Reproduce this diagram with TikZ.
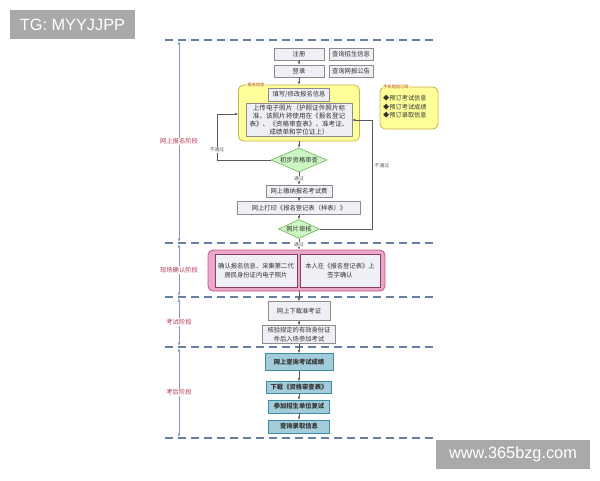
\documentclass[tikz,border=0pt]{standalone}
\usepackage{fontspec}
\setmainfont{Noto Sans CJK SC}
\newfontfamily\markfont{Liberation Sans}
\usetikzlibrary{arrows.meta,positioning,shapes.geometric,shadows}
\definecolor{flowInk}{HTML}{595959}
\definecolor{flowLine}{HTML}{8C8C8C}
\definecolor{flowSoft}{HTML}{EEF0F5}
\definecolor{flowYellow}{HTML}{FFFF99}
\definecolor{flowGold}{HTML}{CDB04A}
\definecolor{flowGreen}{HTML}{CCF7C4}
\definecolor{flowLeaf}{HTML}{73B054}
\definecolor{flowPink}{HTML}{E9A7C9}
\definecolor{flowRose}{HTML}{C8508B}
\definecolor{flowPlum}{HTML}{8E3A66}
\definecolor{flowTeal}{HTML}{A3CCDA}
\definecolor{flowSea}{HTML}{3F8CA6}
\definecolor{flowDash}{HTML}{66809F}
\definecolor{flowRed}{HTML}{B03A55}
\definecolor{flowMark}{HTML}{A9A9A9}
\tikzset{
  stepBox/.style={
    rectangle,
    draw=flowLine,
    fill=flowSoft,
    line width=0.6pt,
    inner sep=0pt,
    align=center,
    text=black!80,
    font=\fontsize{6.3}{8.3}\selectfont,
    drop shadow={shadow xshift=0.9pt,shadow yshift=-0.9pt,opacity=0.3}
  },
  resultBox/.style={
    stepBox,
    draw=flowSea,
    fill=flowTeal,
    font=\fontsize{6.3}{8.3}\selectfont\bfseries
  },
  groupBox/.style={
    rectangle,
    rounded corners=5pt,
    line width=0.8pt,
    inner sep=0pt
  },
  check/.style={
    diamond,
    aspect=2.3,
    draw=flowLeaf,
    fill=flowGreen,
    line width=0.6pt,
    inner sep=0pt,
    text=black!80,
    font=\fontsize{6.3}{8}\selectfont
  },
  flowArrow/.style={
    -{Latex[length=3pt,width=2.4pt]},
    line width=0.4pt,
    draw=flowInk
  },
  stageLine/.style={
    draw=flowDash,
    line width=1.1pt,
    dash pattern=on 8pt off 5pt
  },
  stageSpan/.style={
    {Latex[length=3.5pt,width=2.6pt]}-{Latex[length=3.5pt,width=2.6pt]},
    line width=0.6pt,
    draw=flowDash!80,
    shorten <=1pt,
    shorten >=1pt
  },
  stageName/.style={
    text=flowRed,
    fill=white,
    inner sep=1pt,
    font=\fontsize{6.3}{8}\selectfont
  },
  noteText/.style={
    text=flowInk,
    fill=white,
    inner sep=0.5pt,
    font=\fontsize{4.8}{5}\selectfont
  },
  tagText/.style={
    text=flowRed,
    fill=flowYellow,
    inner sep=0.5pt,
    font=\fontsize{4.2}{5}\selectfont
  },
  markBox/.style={
    rectangle,
    fill=flowMark,
    text=white,
    inner sep=0pt,
    font=\markfont\fontsize{16.3}{18}\selectfont
  }
}

\begin{document}
\begin{tikzpicture}[x=1pt,y=-1pt]
  \useasboundingbox (0,0) rectangle (600,480);
  % stage borders
  \foreach \y/\name in {40/lineA,243/lineB,297/lineC,347/lineD,438/lineE} {
    \coordinate (\name) at (179,\y);
    \draw[stageLine] (165,\y) -- (433,\y);
  }
  \draw[stageSpan] (lineA) -- node[stageName] {网上报名阶段} (lineB);
  \draw[stageSpan] (lineB) -- node[stageName] {现场确认阶段} (lineC);
  \draw[stageSpan] (lineC) -- node[stageName] {考试阶段} (lineD);
  \draw[stageSpan] (lineD) -- node[stageName] {考后阶段} (lineE);

  % online registration
  \node[stepBox, minimum width=50pt, minimum height=12pt] (signup) at (299,54) {注册};
  \node[stepBox, minimum width=44pt, minimum height=12pt] (newsInfo) at (351,54) {查询招生信息};
  \node[stepBox, minimum width=50pt, minimum height=12pt] (login) at (299,71) {登录};
  \node[stepBox, minimum width=44pt, minimum height=12pt] (noticeInfo) at (351,71) {查询网报公告};

  \node[groupBox, draw=flowGold, fill=flowYellow, minimum width=121pt, minimum height=56pt] (infoGroup) at (299,113) {};
  \node[tagText] (infoTag) at (256,85) {报名信息};
  \node[stepBox, minimum width=61pt, minimum height=13pt] (fillInfo) at (299,94.5) {填写/修改报名信息};
  \node[stepBox, text width=106pt, minimum height=33pt, font=\fontsize{6.6}{8.3}\selectfont] (photoUpload) at (299,120)
    {上传电子照片（护照证件照片标\\准，该照片将使用在《报名登记\\表》、《资格审查表》、准考证、\\成绩单和学位证上）};

  \node[groupBox, draw=flowGold, fill=flowYellow, minimum width=58pt, minimum height=42pt] (smsGroup) at (409,108) {};
  \node[tagText] (smsTag) at (396,87) {手机短信订阅};
  \node[anchor=west, align=left, inner sep=0pt, text=black!80, font=\fontsize{6.2}{8.5}\selectfont] (smsList) at (383,107)
    {◆预订考试信息\\◆预订考试成绩\\◆预订录取信息};

  \node[check, minimum width=56pt, minimum height=24pt] (firstCheck) at (299,160) {初步资格审查};
  \node[stepBox, minimum width=66pt, minimum height=12pt] (payFee) at (299,191) {网上缴纳报名考试费};
  \node[stepBox, minimum width=123pt, minimum height=13pt] (printForm) at (299,208) {网上打印《报名登记表（样表）》};
  \node[check, aspect=2.2, minimum width=41pt, minimum height=19pt] (photoCheck) at (299,229) {照片审核};

  % on-site confirmation
  \node[groupBox, draw=flowRose, fill=flowPink, minimum width=177pt, minimum height=41pt] (confirmGroup) at (296.5,270.5) {};
  \node[stepBox, draw=flowPlum, minimum width=82pt, minimum height=33pt] (collectPhoto) at (256,270.5)
    {确认报名信息、采集第二代\\居民身份证内电子照片};
  \node[stepBox, draw=flowPlum, minimum width=80pt, minimum height=33pt] (signForm) at (340,270.5)
    {本人在《报名登记表》上\\签字确认};

  % exam and after
  \node[stepBox, minimum width=62pt, minimum height=19pt] (admitCard) at (299,311) {网上下载准考证};
  \node[stepBox, minimum width=73pt, minimum height=18pt] (enterExam) at (299,334.5) {核验规定的有效身份证\\件后入场参加考试};
  \node[resultBox, minimum width=68pt, minimum height=17pt] (scoreQuery) at (299,362) {网上查询考试成绩};
  \node[resultBox, minimum width=65pt, minimum height=12pt] (reviewForm) at (299,387.5) {下载《资格审查表》};
  \node[resultBox, minimum width=61pt, minimum height=13pt] (retest) at (299,406.5) {参加招生单位复试};
  \node[resultBox, minimum width=61pt, minimum height=13pt] (admitQuery) at (299,426.5) {查询录取信息};

  \draw[flowArrow] (signup) -- (login);
  \draw[flowArrow] (login) -- (infoGroup);
  \draw[flowArrow] (infoGroup) -- (firstCheck);
  \draw[flowArrow] (firstCheck) -- node[noteText] {通过} (payFee);
  \draw[flowArrow] (payFee) -- (printForm);
  \draw[flowArrow] (printForm) -- (photoCheck);
  \draw[flowArrow] (photoCheck) -- node[noteText, pos=0.5] {通过} (photoCheck |- confirmGroup.north);
  \draw[flowArrow] (admitCard |- confirmGroup.south) -- (admitCard);
  \draw[flowArrow] (admitCard) -- (enterExam);
  \draw[flowArrow] (enterExam) -- (scoreQuery);
  \draw[flowArrow] (scoreQuery) -- (reviewForm);
  \draw[flowArrow] (reviewForm) -- (retest);
  \draw[flowArrow] (retest) -- (admitQuery);

  % failed checks
  \coordinate (leftTurn) at (217,114);
  \coordinate (rightTurn) at (372,120);
  \draw[flowArrow] (firstCheck.west) -| (leftTurn) -- (infoGroup.west |- leftTurn);
  \node[noteText] (failA) at (217,150) {不通过};
  \draw[flowArrow] (photoCheck.east) -| (rightTurn) -- (photoUpload.east |- rightTurn);
  \node[noteText, anchor=west] (failB) at (374,166) {不通过};

  % watermarks
  \node[markBox, minimum width=125pt, minimum height=29pt] (tagMark) at (72.5,24.5) {TG: MYYJJPP};
  \node[markBox, minimum width=154pt, minimum height=29pt] (siteMark) at (513,454.5) {www.365bzg.com};
\end{tikzpicture}
\end{document}
